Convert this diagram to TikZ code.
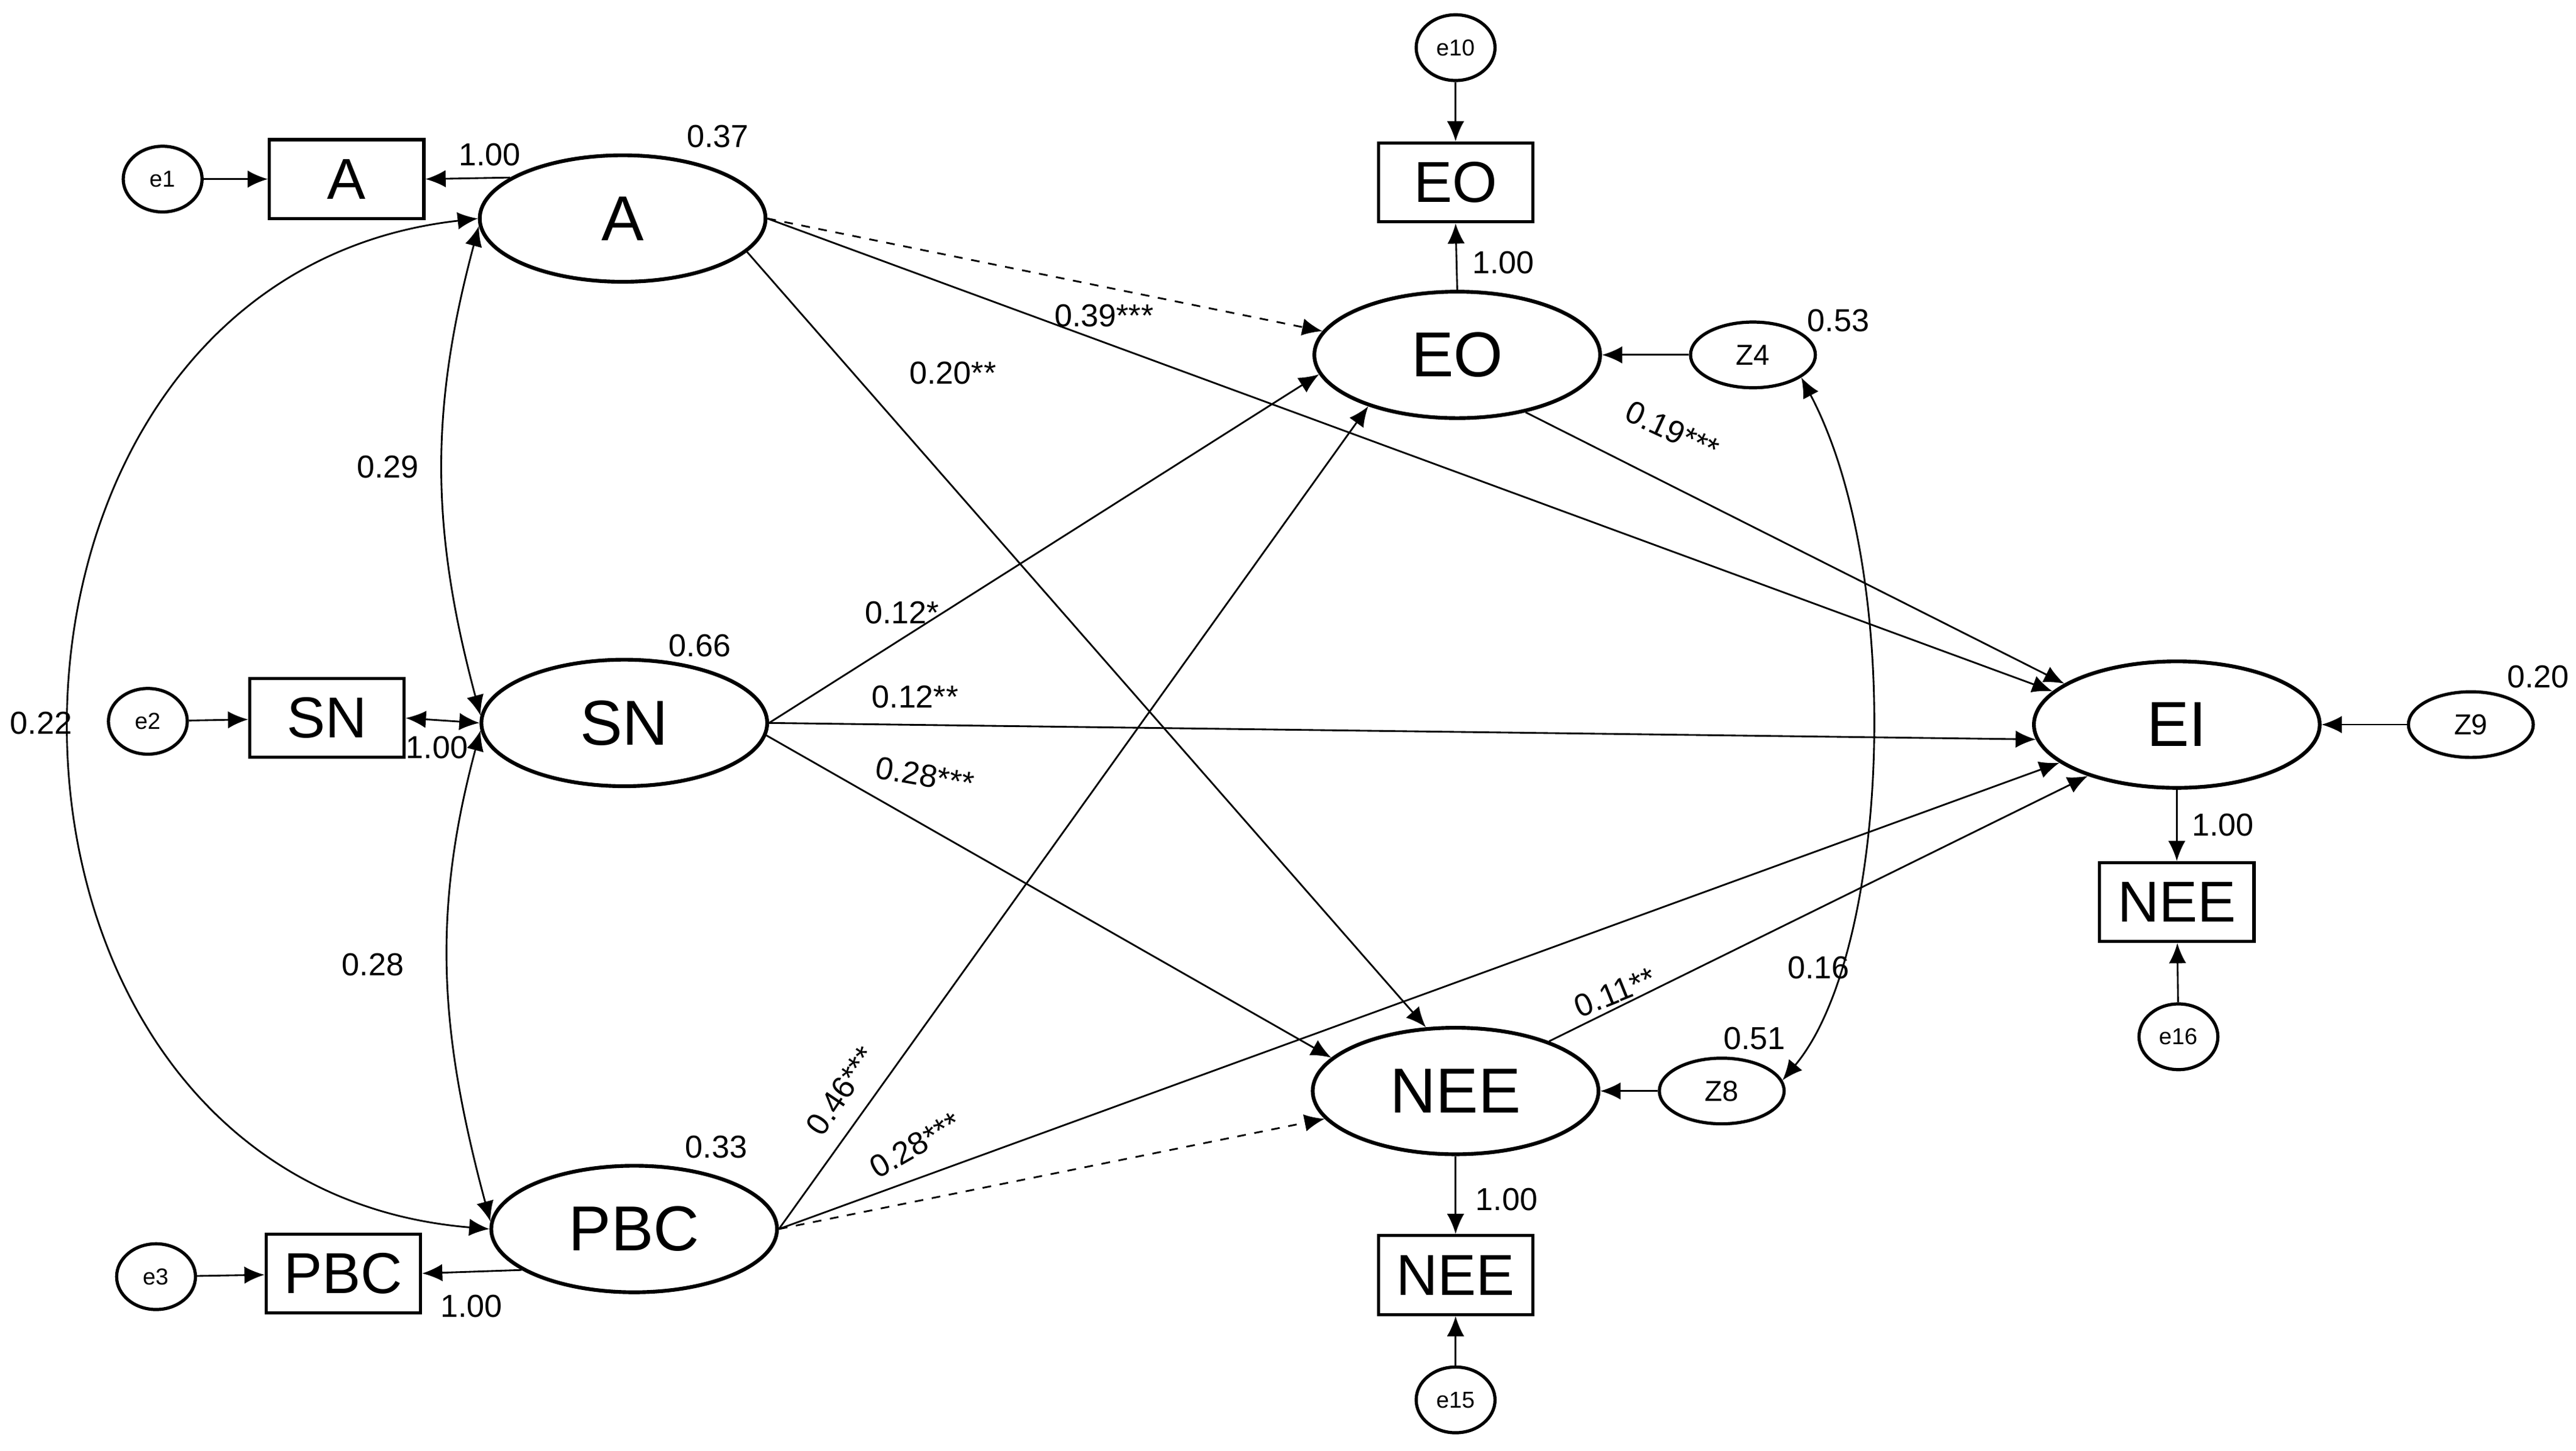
\documentclass[tikz,border=0pt]{standalone}
\usepackage{fontspec}
\setmainfont{Liberation Sans}
\usetikzlibrary{shapes.geometric,arrows.meta}
\begin{document}
\begin{tikzpicture}[x=0.02cm,y=-0.02cm,
  lat/.style={ellipse,draw,line width=1.3pt,minimum width=3.48cm,minimum height=1.54cm,inner sep=0pt,font=\fontsize{22}{22}\selectfont},
  obs/.style={rectangle,draw,line width=1.1pt,minimum width=1.88cm,minimum height=0.96cm,inner sep=0pt,font=\fontsize{20}{20}\selectfont},
  err/.style={ellipse,draw,line width=1.1pt,minimum width=0.96cm,minimum height=0.8cm,inner sep=0pt,font=\fontsize{8}{8}\selectfont},
  dist/.style={ellipse,draw,line width=1.1pt,minimum width=1.52cm,minimum height=0.8cm,inner sep=0pt,font=\fontsize{10}{10}\selectfont},
  arr/.style={-{Latex[length=7pt,width=6pt]},line width=0.6pt},
  darr/.style={{Latex[length=7pt,width=6pt]}-{Latex[length=7pt,width=6pt]},line width=0.6pt},
  lab/.style={font=\fontsize{11}{11}\selectfont,inner sep=1pt}]
\useasboundingbox (0,0) rectangle (1568,883);
% latent
\node[lat] (A) at (379,133) {A};
\node[lat] (SN) at (380,440) {SN};
\node[lat] (PBC) at (386,748) {PBC};
\node[lat] (EO) at (887,216) {EO};
\node[lat] (NEE) at (886,664) {NEE};
\node[lat] (EI) at (1325,441) {EI};
% observed
\node[obs] (rA) at (211,109) {A};
\node[obs] (rSN) at (199,437) {SN};
\node[obs] (rPBC) at (209,775) {PBC};
\node[obs] (rEO) at (886,111) {EO};
\node[obs] (rNEE) at (886,776) {NEE};
\node[obs] (rNEE2) at (1325,549) {NEE};
% errors
\node[err] (e1) at (99,109) {e1};
\node[err] (e2) at (90,439) {e2};
\node[err] (e3) at (95,777) {e3};
\node[err] (e10) at (886,29) {e10};
\node[err] (e15) at (886,852) {e15};
\node[err] (e16) at (1326,631) {e16};
\node[dist] (Z4) at (1067,216) {Z4};
\node[dist] (Z8) at (1048,664) {Z8};
\node[dist] (Z9) at (1504,441) {Z9};
% measurement
\draw[arr] (e1) -- (rA);
\draw[arr] (A.160) -- (rA.east);
\draw[arr] (e2) -- (rSN);
\draw[darr] (rSN.east) -- (SN.west);
\draw[arr] (e3) -- (rPBC);
\draw[arr] (PBC.-160) -- (rPBC.east);
\draw[arr] (EO.north) -- (rEO.south);
\draw[arr] (e10) -- (rEO);
\draw[arr] (NEE.south) -- (rNEE.north);
\draw[arr] (e15) -- (rNEE);
\draw[arr] (EI.south) -- (rNEE2.north);
\draw[arr] (e16) -- (rNEE2);
\draw[arr] (Z4) -- (EO);
\draw[arr] (Z8) -- (NEE);
\draw[arr] (Z9) -- (EI);
% covariances
\draw[darr] (A.183) to[out=255,in=105] (SN.177);
\draw[darr] (SN.183) to[out=255,in=105] (PBC.177);
\draw[darr] (A.180) .. controls (-40,170) and (-40,720) .. (PBC.180);
\draw[darr] (Z4.-25) .. controls (1160,350) and (1150,580) .. (Z8.10);
% paths
\draw[arr,dashed] (A.east) -- (EO.170);
\draw[arr] (A.east) -- (EI.165);
\draw[arr] (A.-15) -- (NEE.115);
\draw[arr] (SN.east) -- (EO.-172);
\draw[arr] (SN.east) -- (EI.-174);
\draw[arr] (SN.-5) -- (NEE.165);
\draw[arr] (PBC.east) -- (EO.-150);
\draw[arr] (PBC.east) -- (EI.-162);
\draw[arr,dashed] (PBC.east) -- (NEE.-168);
\draw[arr] (EO.-40) -- (EI.160);
\draw[arr] (NEE.28) -- (EI.-150);
% labels
\node[lab] at (298,94) {1.00};
\node[lab] at (266,455) {1.00};
\node[lab] at (287,795) {1.00};
\node[lab] at (915,160) {1.00};
\node[lab] at (917,730) {1.00};
\node[lab] at (1353,502) {1.00};
\node[lab] at (437,83) {0.37};
\node[lab] at (426,393) {0.66};
\node[lab] at (436,698) {0.33};
\node[lab] at (1119,195) {0.53};
\node[lab] at (1068,632) {0.51};
\node[lab] at (1545,412) {0.20};
\node[lab] at (236,284) {0.29};
\node[lab] at (227,587) {0.28};
\node[lab] at (25,440) {0.22};
\node[lab] at (1107,589) {0.16};
\node[lab] at (672,192) {0.39***};
\node[lab] at (580,227) {0.20**};
\node[lab] at (549,373) {0.12*};
\node[lab] at (557,424) {0.12**};
\node[lab,rotate=-10] at (563,472) {0.28***};
\node[lab,rotate=56] at (512,664) {0.46***};
\node[lab,rotate=30] at (557,697) {0.28***};
\node[lab,rotate=-25] at (1018,262) {0.19***};
\node[lab,rotate=22] at (983,604) {0.11**};
\end{tikzpicture}
\end{document}
